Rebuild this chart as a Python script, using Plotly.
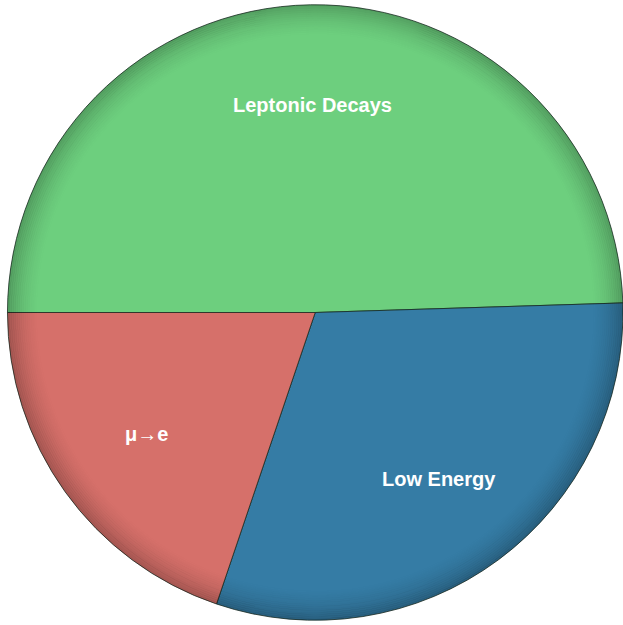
import math
import plotly.graph_objects as go

labels = ["Leptonic Decays", "Low Energy", "μ→e"]
values = [50, 31, 20]
colors = ["#6dcf7e", "#357ca5", "#d6706a"]

W, H = 623, 625
dom_x = [0.012, 1.0]
cx = (dom_x[0] + dom_x[1]) / 2 * W
cy = H / 2
R = min((dom_x[1] - dom_x[0]) * W, H) / 2
start = 270.0

fig = go.Figure(go.Pie(
    labels=labels, values=values, sort=False, direction="clockwise", rotation=start,
    marker=dict(colors=colors, line=dict(color="rgba(20,40,30,0.75)", width=1)),
    textinfo="none",
    domain=dict(x=dom_x, y=[0, 1]), showlegend=False, hoverinfo="label+value+percent",
))

# labels placed at 2/3 of the radius along each slice's mid angle
total = sum(values)
annotations = []
acc = 0.0
for lab, v in zip(labels, values):
    mid = start + (acc + v / 2) / total * 360.0
    acc += v
    th = math.radians(mid)
    px = cx + 0.675 * R * math.sin(th)
    py = cy - 0.675 * R * math.cos(th)
    annotations.append(dict(x=px / W, y=1 - py / H, xref="paper", yref="paper",
                            xanchor="center", yanchor="middle",
                            text=lab, showarrow=False,
                            font=dict(family="Liberation Sans, Arial", size=20,
                                      color="white", weight="bold")))

# rim shading (inner shadow) made of thin concentric rings
shapes = []
n = 16
for i in range(n):
    rr = R - 1 - i * 2
    a = 0.22 * (1 - i / n) ** 1.8
    shapes.append(dict(type="circle", xref="paper", yref="paper",
                       x0=(cx - rr) / W, x1=(cx + rr) / W,
                       y0=(cy - rr) / H, y1=(cy + rr) / H,
                       line=dict(color=f"rgba(0,0,0,{a:.3f})", width=2.2),
                       layer="above"))

fig.update_layout(width=W, height=H, margin=dict(l=0, r=0, t=0, b=0),
                  paper_bgcolor="white", plot_bgcolor="white", shapes=shapes,
                  annotations=annotations)
fig.write_html("out.html")
